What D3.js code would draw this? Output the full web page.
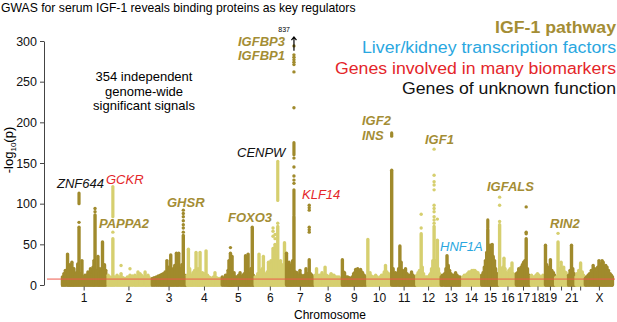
<!DOCTYPE html>
<html>
<head>
<meta charset="utf-8">
<script src="https://cdn.jsdelivr.net/npm/d3@7"></script>
<style>
  body { margin: 0; background: #fff; }
  svg { display: block; font-family: "Liberation Sans", Arial, sans-serif; }
</style>
</head>
<body>
<div id="plot"></div>
<script>
// chromosomes and their lengths (Mb)
const chromosomes = ["1","2","3","4","5","6","7","8","9","10","11","12","13","14","15","16","17","18","19","20","21","22","X"];
const chromLengths = [249,243,198,191,181,171,159,146,141,136,135,134,115,107,102,90,81,78,59,63,48,51,155];
const tickLabels = ["1","2","3","4","5","6","7","8","9","10","11","12","13","14","15","16","17","18","19","","21","","X"];
const yTicks = [0, 50, 100, 150, 200, 250, 300];
const threshold = 7.3;

// dense columns of SNPs: [chromosome, position Mb, -log10(p) reached by the solid column]
const peaks = [
  ["1",16,14],["1",36,38],["1",49,25],["1",60,28],["1",71,20],["1",85,15],["1",99,71],["1",115,30],["1",132,12],["1",148,16],["1",162,20],["1",176,22],["1",187,86],["1",203,35],["1",214,20],["1",228,53],["1",239,25],["1",246,18],
  ["1",8,10],["1",24,18],["1",42,22],["1",54,16],["1",66,20],["1",78,12],["1",92,26],["1",106,14],["1",122,10],["1",140,12],["1",155,14],["1",169,12],["1",181,30],["1",195,18],["1",208,14],["1",221,16],["1",234,20],
  ["2",20,10],["2",36,57],["2",59,12],["2",81,14],["2",103,8],["2",130,12],["2",157,12],["2",174,16],["2",185,14],["2",202,10],["2",213,16],["2",229,12],
  ["2",10,12],["2",28,9],["2",45,10],["2",70,10],["2",92,9],["2",116,10],["2",143,11],["2",165,10],["2",193,12],["2",220,10],["2",236,9],
  ["3",10,8],["3",32,10],["3",54,12],["3",70,14],["3",90,30],["3",111,37],["3",125,20],["3",142,39],["3",155,39],["3",180,61],["3",194,10],
  ["3",20,9],["3",43,11],["3",62,13],["3",80,16],["3",100,22],["3",118,18],["3",133,24],["3",148,26],["3",165,20],["3",172,25],["3",188,12],
  ["4",10,44],["4",24,12],["4",35,15],["4",52,40],["4",63,20],["4",74,40],["4",87,15],["4",107,42],["4",123,10],["4",140,8],["4",156,15],["4",173,8],
  ["4",4,12],["4",17,20],["4",30,12],["4",44,18],["4",58,14],["4",69,16],["4",80,12],["4",96,14],["4",115,12],["4",131,9],["4",148,10],["4",165,9],["4",182,8],
  ["5",15,8],["5",31,12],["5",42,30],["5",50,39],["5",59,35],["5",70,15],["5",86,10],["5",103,15],["5",119,12],["5",133,36],["5",147,38],["5",170,71],
  ["5",5,10],["5",23,12],["5",37,18],["5",46,22],["5",55,20],["5",64,12],["5",78,10],["5",95,12],["5",111,10],["5",126,14],["5",140,18],["5",155,14],["5",162,20],["5",176,12],
  ["6",12,10],["6",26,38],["6",37,15],["6",50,35],["6",64,12],["6",78,28],["6",92,30],["6",103,45],["6",114,50],["6",129,72],["6",144,30],["6",158,25],["6",166,52],
  ["6",5,10],["6",19,14],["6",31,18],["6",44,20],["6",57,14],["6",71,16],["6",85,20],["6",98,26],["6",108,30],["6",121,36],["6",136,28],["6",151,22],["6",162,18],
  ["7",6,39],["7",20,28],["7",33,25],["7",47,84],["7",64,15],["7",80,18],["7",97,10],["7",113,20],["7",131,31],["7",146,12],
  ["7",13,20],["7",27,18],["7",40,30],["7",55,16],["7",72,12],["7",88,12],["7",105,12],["7",122,14],["7",138,14],["7",153,10],
  ["8",12,20],["8",26,12],["8",42,15],["8",59,22],["8",75,10],["8",92,14],["8",108,12],["8",125,10],
  ["8",5,12],["8",19,10],["8",34,12],["8",50,12],["8",67,12],["8",83,11],["8",100,12],["8",116,10],["8",135,10],["8",142,8],
  ["9",8,31],["9",20,15],["9",37,10],["9",53,8],["9",70,14],["9",81,19],["9",92,20],["9",108,19],["9",119,15],
  ["9",14,16],["9",28,10],["9",45,9],["9",62,10],["9",75,15],["9",87,18],["9",100,18],["9",114,16],["9",128,12],["9",136,10],
  ["10",7,56],["10",19,15],["10",33,10],["10",50,12],["10",66,8],["10",82,12],["10",104,24],["10",121,14],
  ["10",13,12],["10",26,11],["10",41,10],["10",58,10],["10",74,10],["10",90,12],["10",97,16],["10",112,16],["10",128,12],
  ["11",2,141],["11",23,15],["11",47,48],["11",62,18],["11",78,20],["11",95,12],["11",111,16],["11",128,10],
  ["11",10,20],["11",16,14],["11",30,12],["11",40,20],["11",54,28],["11",70,16],["11",86,14],["11",103,12],["11",119,12],["11",132,10],
  ["12",12,15],["12",29,63],["12",42,14],["12",59,10],["12",75,12],["12",86,20],["12",100,72],["12",118,55],["12",130,14],
  ["12",5,12],["12",20,18],["12",35,22],["12",50,10],["12",67,10],["12",80,14],["12",93,30],["12",108,30],["12",124,20],
  ["13",12,12],["13",37,36],["13",51,18],["13",67,12],["13",84,15],["13",100,10],
  ["13",5,10],["13",24,14],["13",31,20],["13",44,24],["13",58,14],["13",75,12],["13",92,12],["13",108,10],
  ["14",9,10],["14",26,12],["14",42,16],["14",59,18],["14",75,18],["14",92,15],
  ["14",17,12],["14",34,14],["14",50,16],["14",67,18],["14",83,16],["14",100,12],
  ["15",13,15],["15",26,30],["15",39,68],["15",51,49],["15",63,50],["15",76,30],["15",90,14],
  ["15",6,12],["15",20,22],["15",33,40],["15",45,45],["15",57,38],["15",69,35],["15",82,20],["15",96,12],
  ["16",2,74],["16",15,20],["16",26,33],["16",40,15],["16",53,18],["16",70,27],["16",84,12],
  ["16",8,16],["16",20,22],["16",32,20],["16",46,14],["16",60,20],["16",77,14],["16",88,10],
  ["17",10,15],["17",24,18],["17",37,25],["17",58,57],["17",73,12],
  ["17",4,14],["17",17,20],["17",30,22],["17",44,28],["17",51,30],["17",65,20],["17",78,10],
  ["18",6,12],["18",23,10],["18",39,14],["18",56,10],["18",69,12],
  ["18",14,10],["18",31,12],["18",47,12],["18",62,10],["18",75,9],
  ["19",5,49],["19",19,20],["19",32,31],["19",49,15],
  ["19",12,25],["19",26,22],["19",40,18],["19",55,12],
  ["20",7,10],["20",15,53],["20",32,28],["20",46,22],["20",59,15],
  ["20",2,9],["20",24,20],["20",39,18],["20",52,16],["20",62,10],
  ["21",10,12],["21",26,49],["21",40,14],
  ["21",18,18],["21",33,20],["21",46,10],
  ["22",8,14],["22",28,27],["22",44,12],
  ["22",3,10],["22",18,18],["22",37,16],["22",49,10],
  ["X",9,10],["X",26,14],["X",46,24],["X",64,15],["X",78,30],["X",95,30],["X",108,22],["X",122,22],["X",139,14],["X",152,10],
  ["X",3,8],["X",18,12],["X",36,18],["X",55,20],["X",71,22],["X",86,26],["X",101,28],["X",115,24],["X",130,18],["X",146,12]
];

// tightly packed SNPs floating above a column: [chromosome, position, low, high]
const runs = [
  ["1",99,100,113],["2",36,84,121],["6",129,104,152],
  ["7",47,86,117],["7",47,160,175],["11",2,183,187],["15",39,70,80]
];

// single strong SNPs: [chromosome, position, -log10(p)]
const hits = [
  ["1",99,77],["1",187,94],["1",187,90],["2",36,65],["2",81,24],["2",130,20],
  ["3",180,92],["3",180,88],["3",180,84],["3",180,79],["3",180,74],["3",180,70],["3",180,65],
  ["5",50,46],["6",103,70],["6",103,66],["6",103,60],["6",114,62],["6",114,57],["6",129,76],
  ["7",47,125],["7",47,129],["7",47,134],["7",47,145],["7",47,156],["7",47,218],["7",47,262],
  ["7",47,271],["7",47,274],["7",47,277],["7",47,280],["7",47,283],["7",47,294],
  ["7",131,98],["7",131,95],["7",131,92],["7",131,71],["7",131,68],["7",131,65],
  ["12",29,87],["12",29,70],["12",100,167],["12",100,135],["12",100,127],["12",100,123],["12",100,117],
  ["12",100,98],["12",100,94],["12",100,90],["12",100,84],["12",100,80],["12",100,76],["12",118,81],
  ["16",2,108],["16",2,98],["16",2,78],["17",58,96],["17",58,65],["17",58,63],["20",15,63.5]
];

// gene annotations and their group
const genes = [
  ["ZNF644","unknown"],["GCKR","many"],["PAPPA2","igf"],["GHSR","igf"],["FOXO3","igf"],
  ["CENPW","unknown"],["IGFBP3","igf"],["IGFBP1","igf"],["KLF14","many"],["IGF2","igf"],
  ["INS","igf"],["IGF1","igf"],["HNF1A","liver"],["IGFALS","igf"],["RIN2","igf"]
];
const legendItems = [
  ["IGF-1 pathway","igf"],["Liver/kidney transcription factors","liver"],
  ["Genes involved in many biomarkers","many"],["Genes of unknown function","unknown"]
];

// layout
const width = 617, height = 322;
const groupColor = { igf: "#a48d35", liver: "#2aa7df", many: "#e4262a", unknown: "#111" };
const darkCol = "#a08a2c", lightCol = "#d6cf6f", darkBand = "#8a7829", lightBand = "#c8bf60";
const labelAt = {
  ZNF644: [57,188], GCKR: [106,184], PAPPA2: [99,228], GHSR: [167,207], FOXO3: [228,222],
  CENPW: [237,157], IGFBP3: [238,46], IGFBP1: [238,60], KLF14: [302,199], IGF2: [362,125],
  INS: [362,140], IGF1: [425,144], HNF1A: [440,251], IGFALS: [487,191], RIN2: [550,228]
};
const legendWidth = [121, 254, 281, 214];

const starts = [0, ...d3.cumsum(chromLengths)];
const total = starts[starts.length - 1];
const idx = c => chromosomes.indexOf(c);
const gpos = (c, p) => starts[idx(c)] + p;

const x = d3.scaleLinear().domain([0, total]).range([61, 613]);
const y = d3.scaleLinear().domain([0, 300]).range([285, 41]);
const shade = (c, a, b) => idx(c) % 2 === 0 ? a : b;

const svg = d3.select("#plot").append("svg")
  .attr("width", width).attr("height", height);

// title
svg.append("text").attr("x", 1).attr("y", 12)
  .style("font-size", "12.2px").text("GWAS for serum IGF-1 reveals binding proteins as key regulators");

// chromosome bands of non-significant SNPs
svg.append("g").selectAll("rect").data(chromosomes).join("rect")
  .attr("x", (d, i) => x(starts[i]))
  .attr("width", (d, i) => x(starts[i + 1]) - x(starts[i]))
  .attr("y", y(8))
  .attr("height", y(-2) - y(8))
  .attr("fill", d => shade(d, darkBand, lightBand));

// columns
svg.append("g").selectAll("line").data(peaks).join("line")
  .attr("x1", d => x(gpos(d[0], d[1]))).attr("x2", d => x(gpos(d[0], d[1])))
  .attr("y1", y(0)).attr("y2", d => y(d[2]))
  .attr("stroke", d => shade(d[0], darkCol, lightCol))
  .attr("stroke-width", 3.4).attr("stroke-linecap", "round");

svg.append("g").selectAll("line").data(runs).join("line")
  .attr("x1", d => x(gpos(d[0], d[1]))).attr("x2", d => x(gpos(d[0], d[1])))
  .attr("y1", d => y(d[2])).attr("y2", d => y(d[3]))
  .attr("stroke", d => shade(d[0], darkCol, lightCol))
  .attr("stroke-width", 3.2).attr("stroke-linecap", "round");

svg.append("g").selectAll("circle").data(hits).join("circle")
  .attr("cx", d => x(gpos(d[0], d[1])))
  .attr("cy", d => y(d[2]))
  .attr("r", 1.7)
  .attr("fill", d => shade(d[0], darkCol, lightCol));

// significance line
svg.append("line")
  .attr("x1", 47).attr("x2", 615)
  .attr("y1", y(threshold)).attr("y2", y(threshold))
  .attr("stroke", "#ee5a4c").attr("stroke-width", 1);

// off-scale marker for the IGFBP3 locus
const topX = x(gpos("7", 47));
svg.append("path")
  .attr("d", `M${topX},${y(288)}V${y(305)}M${topX - 2.5},${y(301)}L${topX},${y(305)}L${topX + 2.5},${y(301)}`)
  .attr("fill", "none").attr("stroke", "#000").attr("stroke-width", 1.2);
svg.append("text").attr("x", topX - 4).attr("y", 32)
  .attr("text-anchor", "end").style("font-size", "7px").text("837");

// y axis
const yAxis = svg.append("g").attr("transform", "translate(44,0)")
  .call(d3.axisLeft(y).tickValues(yTicks).tickSize(4).tickSizeOuter(0));
yAxis.selectAll("path, line").attr("stroke", "#444");
yAxis.selectAll("text").style("font-size", "12.5px").style("font-family", "'Liberation Sans', Arial, sans-serif").attr("fill", "#111");

const ylab = svg.append("text")
  .attr("transform", "translate(13,150) rotate(-90)")
  .attr("text-anchor", "middle").style("font-size", "13px");
ylab.append("tspan").text("-log");
ylab.append("tspan").attr("dy", 3).style("font-size", "8px").text("10");
ylab.append("tspan").attr("dy", -3).text("(p)");

// x axis
const centers = chromosomes.map((c, i) => starts[i] + chromLengths[i] / 2);
const xAxis = svg.append("g").attr("transform", "translate(0,286.5)")
  .call(d3.axisBottom(x).tickValues(centers).tickSize(4)
    .tickFormat((d, i) => tickLabels[i]));
xAxis.select(".domain").remove();
xAxis.selectAll("line").attr("stroke", "#444");
xAxis.selectAll("text").style("font-size", "12px").style("font-family", "'Liberation Sans', Arial, sans-serif").attr("fill", "#111");

svg.append("text").attr("x", 330).attr("y", 319)
  .attr("text-anchor", "middle").style("font-size", "12px").text("Chromosome");

// signal count note
svg.append("text").attr("text-anchor", "middle").style("font-size", "13px")
  .selectAll("tspan").data(["354 independent", "genome-wide", "significant signals"]).join("tspan")
  .attr("x", 144).attr("y", (d, i) => 81 + i * 14.5).text(d => d);

// gene labels
svg.append("g").selectAll("text").data(genes).join("text")
  .attr("x", d => labelAt[d[0]][0]).attr("y", d => labelAt[d[0]][1])
  .attr("fill", d => groupColor[d[1]])
  .style("font-size", "13px").style("font-style", "italic")
  .style("font-weight", d => d[1] === "igf" ? "bold" : "normal")
  .text(d => d[0]);

// legend
svg.append("g").selectAll("text").data(legendItems).join("text")
  .attr("x", 616).attr("y", (d, i) => 33 + i * 20.3)
  .attr("text-anchor", "end")
  .attr("fill", d => groupColor[d[1]])
  .attr("textLength", (d, i) => legendWidth[i])
  .attr("lengthAdjust", "spacingAndGlyphs")
  .style("font-size", "16px")
  .style("font-weight", d => d[1] === "igf" ? "bold" : "normal")
  .text(d => d[0]);
</script>
</body>
</html>
